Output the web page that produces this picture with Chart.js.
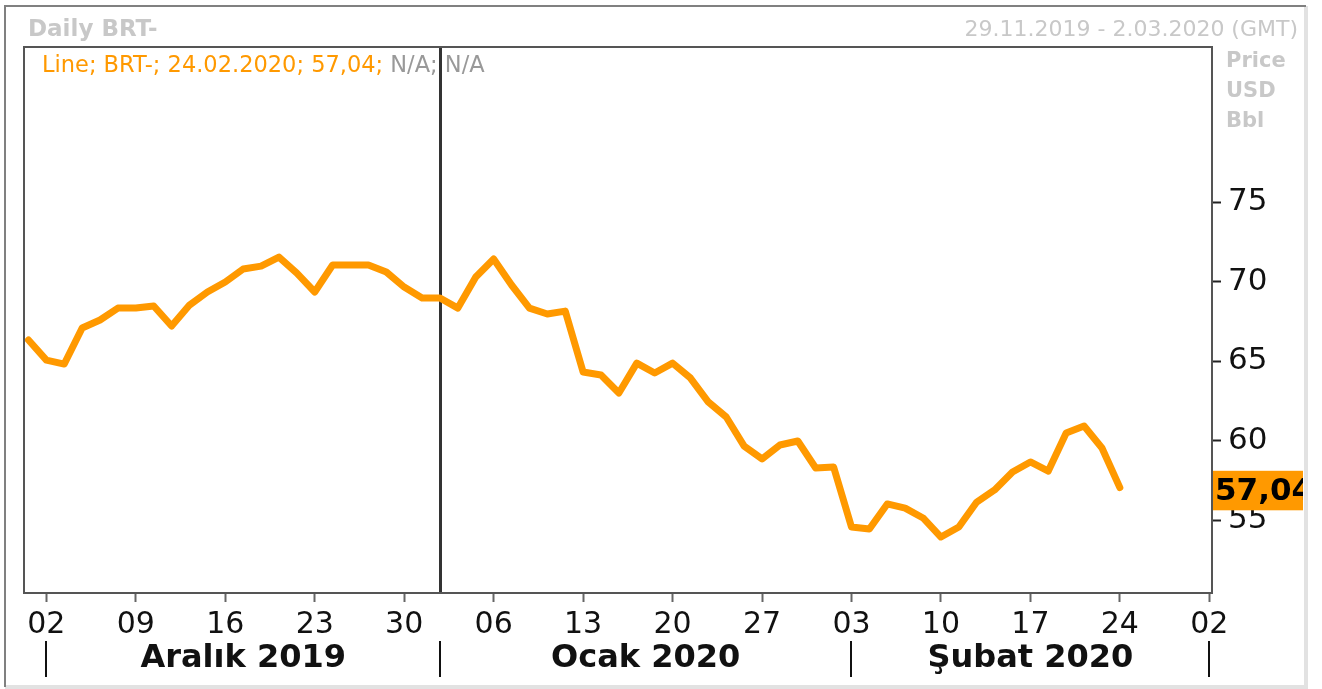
<!DOCTYPE html>
<html>
<head>
<meta charset="utf-8">
<script src="https://cdn.jsdelivr.net/npm/chart.js@4.4.1/dist/chart.umd.min.js"></script>
<style>
  body { margin: 0; background: #fff; }
  canvas { display: block; }
</style>
</head>
<body>
<canvas id="brtChart" width="1322" height="689"></canvas>
<script>
// trading days on the axis, 29.11.2019 .. 02.03.2020
var dates = [
  '29.11.2019',
  '02.12.2019','03.12.2019','04.12.2019','05.12.2019','06.12.2019',
  '09.12.2019','10.12.2019','11.12.2019','12.12.2019','13.12.2019',
  '16.12.2019','17.12.2019','18.12.2019','19.12.2019','20.12.2019',
  '23.12.2019','24.12.2019','25.12.2019','26.12.2019','27.12.2019',
  '30.12.2019','31.12.2019','01.01.2020','02.01.2020','03.01.2020',
  '06.01.2020','07.01.2020','08.01.2020','09.01.2020','10.01.2020',
  '13.01.2020','14.01.2020','15.01.2020','16.01.2020','17.01.2020',
  '20.01.2020','21.01.2020','22.01.2020','23.01.2020','24.01.2020',
  '27.01.2020','28.01.2020','29.01.2020','30.01.2020','31.01.2020',
  '03.02.2020','04.02.2020','05.02.2020','06.02.2020','07.02.2020',
  '10.02.2020','11.02.2020','12.02.2020','13.02.2020','14.02.2020',
  '17.02.2020','18.02.2020','19.02.2020','20.02.2020','21.02.2020',
  '24.02.2020','25.02.2020','26.02.2020','27.02.2020','28.02.2020',
  '02.03.2020'
];

// BRT- daily close, USD/Bbl
var prices = [
  66.32, 65.06, 64.81, 67.08, 67.58, 68.33, 68.33, 68.46, 67.20, 68.52,
  69.34, 69.97, 70.79, 70.97, 71.54, 70.53, 69.34, 71.04, 71.04, 71.04,
  70.60, 69.65, 68.96, 68.96, 68.33, 70.28, 71.42, 69.78, 68.33, 67.96,
  68.14, 64.31, 64.12, 62.99, 64.87, 64.25, 64.87, 63.93, 62.42, 61.48,
  59.65, 58.84, 59.72, 59.97, 58.27, 58.33, 54.56, 54.43, 56.01, 55.75,
  55.13, 53.93, 54.56, 56.13, 56.89, 58.02, 58.65, 58.08, 60.47, 60.91,
  59.53, 57.04
];

var weekTicks = ['02.12.2019','09.12.2019','16.12.2019','23.12.2019','30.12.2019',
  '06.01.2020','13.01.2020','20.01.2020','27.01.2020',
  '03.02.2020','10.02.2020','17.02.2020','24.02.2020','02.03.2020'];
var yTicks = [55, 60, 65, 70, 75];

var months = ['Aralık 2019', 'Ocak 2020', 'Şubat 2020'];
var monthStarts = ['02.12.2019', '01.01.2020', '03.02.2020', '02.03.2020'];
var yearStart = '01.01.2020';

var title = 'Daily BRT-';
var period = '29.11.2019 - 2.03.2020 (GMT)';
var unitLines = ['Price', 'USD', 'Bbl'];

var ORANGE = '#ff9900';
var FONT = '"DejaVu Sans", Verdana, sans-serif';

var points = [];
for (var i = 0; i < prices.length; i++) {
    points.push({ x: i, y: prices[i] });
}
var lastIdx = prices.length - 1;

function idx(d) { return dates.indexOf(d); }

var framePlugin = {
    id: 'frame',
    beforeDraw: function (chart) {
        var c = chart.ctx;
        c.save();
        c.fillStyle = '#fff';
        c.fillRect(0, 0, chart.width, chart.height);
        // outer frame
        c.fillStyle = '#e2e2e2';
        c.fillRect(1304, 6, 4, 682);
        c.fillRect(5, 685, 1303, 4);
        c.fillStyle = '#808080';
        c.fillRect(4, 5, 1302, 2);
        c.fillRect(4, 5, 2, 682);
        c.restore();
    },
    beforeDatasetsDraw: function (chart) {
        var c = chart.ctx, a = chart.chartArea;
        var x = chart.scales.x.getPixelForValue(idx(yearStart));
        c.save();
        c.fillStyle = '#333';
        c.fillRect(Math.round(x) - 1, a.top, 3, a.bottom - a.top);
        c.restore();
    },
    afterDraw: function (chart) {
        var c = chart.ctx, a = chart.chartArea;
        var xs = chart.scales.x, ys = chart.scales.y;
        c.save();
        // plot frame
        c.strokeStyle = '#555';
        c.lineWidth = 2;
        c.strokeRect(a.left, a.top, a.right - a.left, a.bottom - a.top);

        // headers
        c.textBaseline = 'middle';
        c.fillStyle = '#c8c8c8';
        c.textAlign = 'left';
        c.font = 'bold 23px ' + FONT;
        c.fillText(title, 28, 30);
        c.font = 'bold 21px ' + FONT;
        for (var k = 0; k < unitLines.length; k++) {
            c.fillText(unitLines[k], 1226, 62 + k * 30);
        }
        c.font = '22px ' + FONT;
        c.textAlign = 'right';
        c.fillText(period, 1298, 30);

        // legend line
        c.textAlign = 'left';
        c.font = '22.5px ' + FONT;
        var head = 'Line; BRT-; ' + dates[lastIdx] + '; ' + prices[lastIdx].toFixed(2).replace('.', ',') + '; ';
        c.fillStyle = ORANGE;
        c.fillText(head, 42, 66);
        c.fillStyle = '#999';
        c.fillText('N/A; N/A', 42 + c.measureText(head).width, 66);

        // last value box
        var yv = ys.getPixelForValue(prices[lastIdx]);
        c.beginPath();
        c.rect(a.right + 1, yv - 17, 1303 - a.right - 1, 40);
        c.clip();
        c.fillStyle = ORANGE;
        c.fillRect(a.right + 1, yv - 17, 1303 - a.right - 1, 40);
        c.fillStyle = '#000';
        c.font = 'bold 31px ' + FONT;
        c.fillText(prices[lastIdx].toFixed(2).replace('.', ','), a.right + 3, yv + 4);
        c.restore();

        // month band
        c.save();
        c.fillStyle = '#111';
        for (var m = 0; m < monthStarts.length; m++) {
            var mx = Math.round(xs.getPixelForValue(idx(monthStarts[m])));
            c.fillRect(mx - 1, 641, 2, 36);
        }
        c.font = 'bold 32px ' + FONT;
        c.textAlign = 'center';
        c.textBaseline = 'middle';
        for (var n = 0; n < months.length; n++) {
            var x0 = xs.getPixelForValue(idx(monthStarts[n]));
            var x1 = xs.getPixelForValue(idx(monthStarts[n + 1]));
            c.fillText(months[n], (x0 + x1) / 2, 659);
        }
        c.restore();
    }
};

var ctx = document.getElementById('brtChart').getContext('2d');
var brtChart = new Chart(ctx, {
    type: 'line',
    data: {
        datasets: [{
            label: 'BRT-',
            data: points,
            borderColor: ORANGE,
            borderWidth: 7,
            borderJoinStyle: 'round',
            borderCapStyle: 'round',
            pointRadius: 0,
            tension: 0,
            fill: false
        }]
    },
    options: {
        responsive: false,
        animation: false,
        layout: { padding: { left: 24, top: 47, right: 0, bottom: 0 } },
        plugins: {
            legend: { display: false },
            tooltip: { enabled: false }
        },
        scales: {
            x: {
                type: 'linear',
                min: -0.25,
                max: 66.15,
                afterBuildTicks: function (scale) {
                    scale.ticks = weekTicks.map(function (d) { return { value: idx(d) }; });
                },
                afterFit: function (scale) { scale.height = 96; },
                ticks: {
                    autoSkip: false,
                    maxRotation: 0,
                    padding: 5,
                    color: '#111',
                    font: { family: FONT, size: 30 },
                    callback: function (v) { return dates[v] ? dates[v].slice(0, 2) : ''; }
                },
                grid: {
                    drawOnChartArea: false,
                    tickLength: 9,
                    tickColor: '#666',
                    tickWidth: 2
                },
                border: { display: false }
            },
            y: {
                position: 'right',
                min: 50.41,
                max: 84.75,
                afterBuildTicks: function (scale) {
                    scale.ticks = yTicks.map(function (v) { return { value: v }; });
                },
                afterFit: function (scale) { scale.width = 110; },
                ticks: {
                    padding: 7,
                    color: '#111',
                    font: { family: FONT, size: 31 }
                },
                grid: {
                    drawOnChartArea: false,
                    tickLength: 9,
                    tickColor: '#222',
                    tickWidth: 2
                },
                border: { display: false }
            }
        }
    },
    plugins: [framePlugin]
});
</script>
</body>
</html>
